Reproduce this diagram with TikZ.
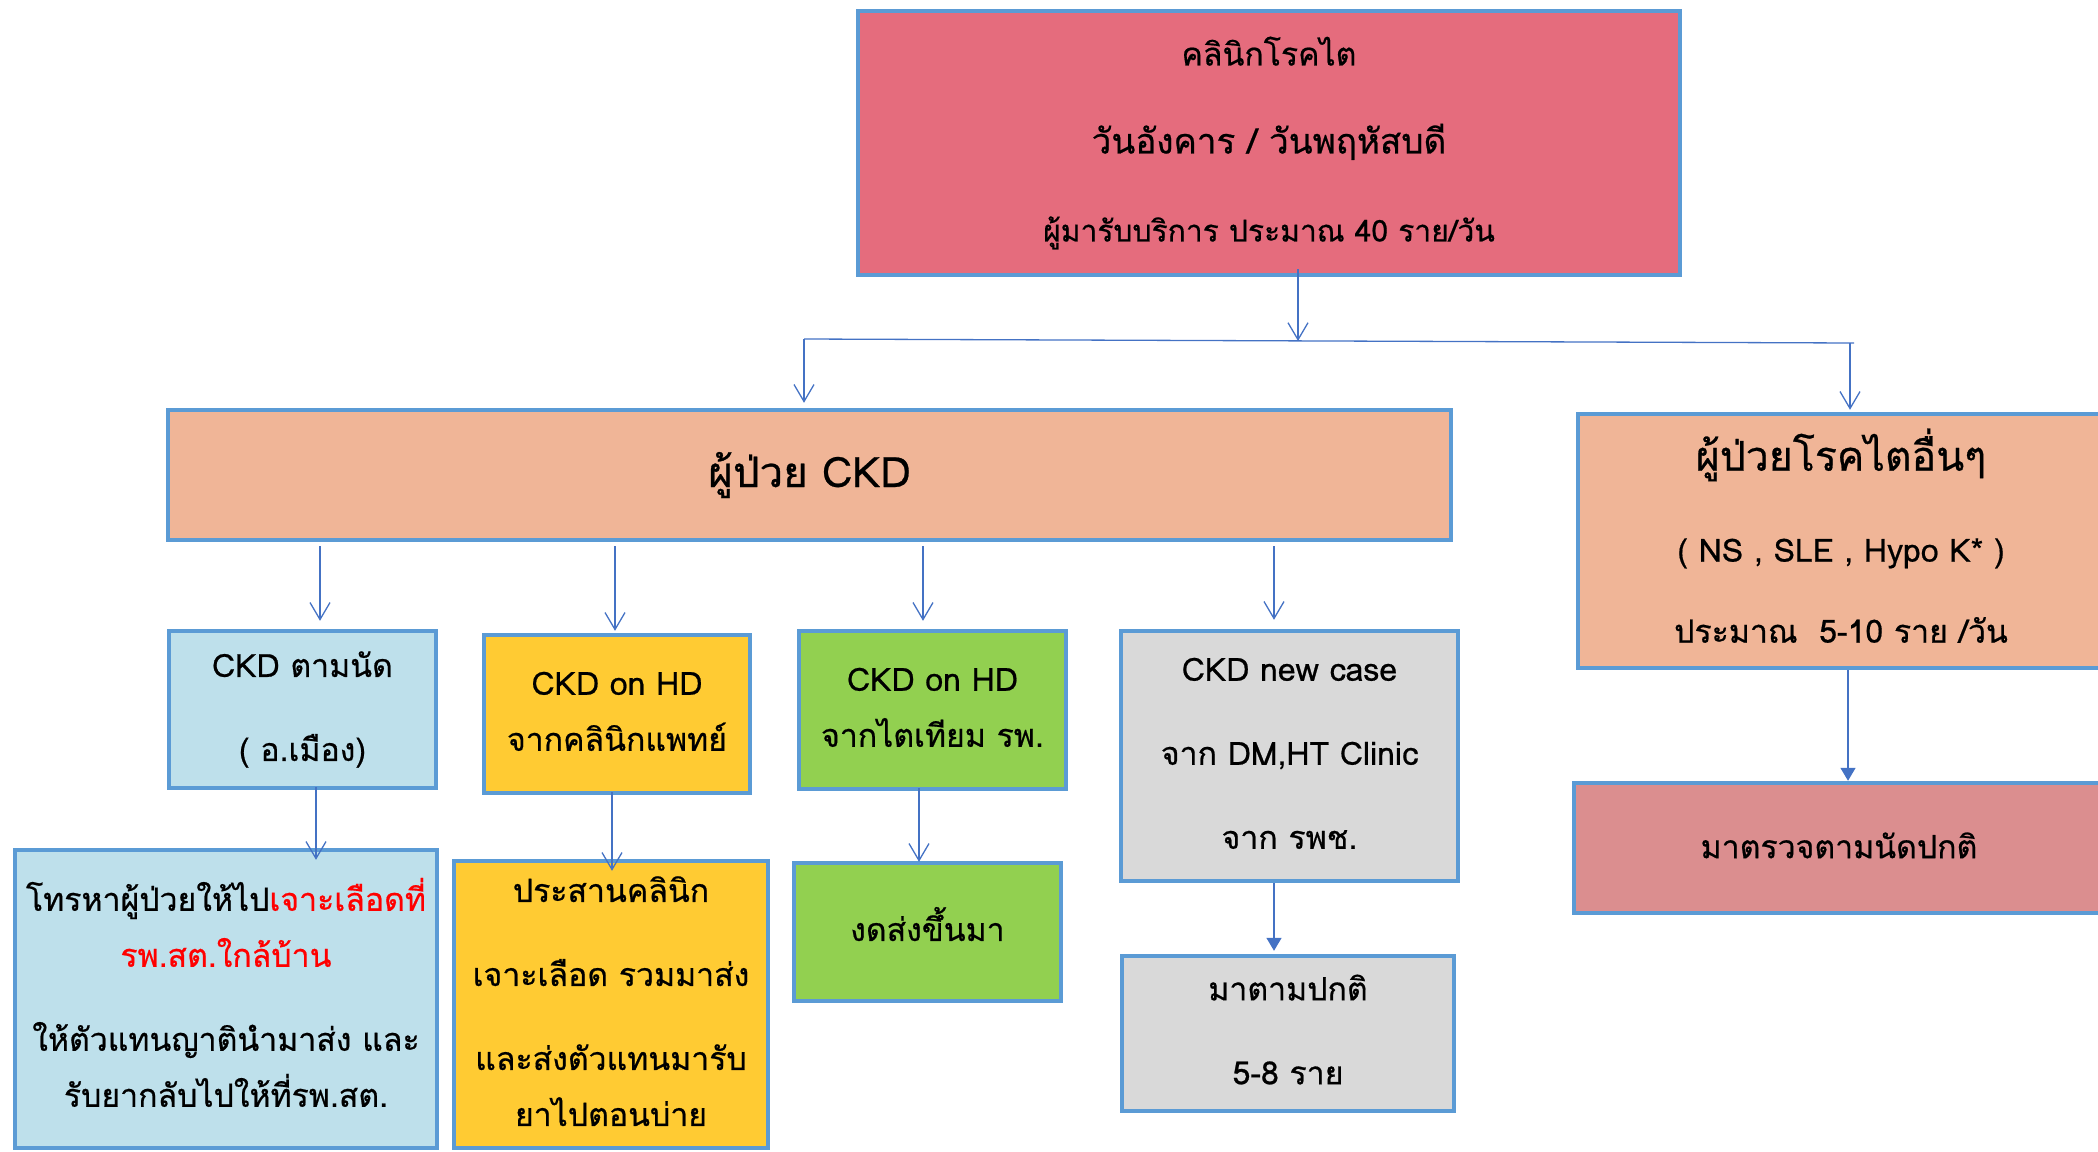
\documentclass[tikz,border=0pt]{standalone}
\usepackage{fontspec}
\usetikzlibrary{arrows.meta}
\newfontfamily\thaifont[Script=Thai,FakeBold=0.6]{Loma}
\definecolor{bordc}{HTML}{5B9BD5}
\definecolor{arrc}{HTML}{4472C4}
\definecolor{topc}{HTML}{E56C7D}
\definecolor{peach}{HTML}{F0B597}
\definecolor{rosec}{HTML}{DB8E8F}
\definecolor{lblue}{HTML}{BEE0EB}
\definecolor{goldc}{HTML}{FFCB33}
\definecolor{lgreen}{HTML}{92D050}
\definecolor{lgray}{HTML}{D9D9D9}
\newcommand\txnorm{\thaifont\fontsize{16}{28}\selectfont}
\newcommand\dep[1]{\rule[-#1]{0pt}{#1}}
\tikzset{
  box/.style={draw=bordc, line width=2.2pt, inner sep=0pt, align=center, text=black, font=\txnorm},
  oarr/.style={draw=arrc, line width=0.65pt, -{Straight Barb[length=8.5pt,width=10pt,line width=0.65pt]}},
  farr/.style={draw=arrc, line width=0.7pt, -{Triangle[length=6.5pt,width=7.5pt]}},
  bus/.style={draw=arrc, line width=0.65pt}
}
\begin{document}
\begin{tikzpicture}[x=0.5pt,y=-0.5pt]
\useasboundingbox (0,0) rectangle (2098,1151);
% top box
\node[box, fill=topc, minimum width=411pt, minimum height=132pt,
      font={\thaifont\fontsize{17.5}{44}\selectfont}] (top) at (1269,143)
  {{\fontsize{16}{44}\selectfont คลินิกโรคไต}\\วันอังคาร / วันพฤหัสบดี\\{\fontsize{15}{44}\selectfont ผู้มารับบริการ ประมาณ 40 ราย/วัน}};
% level 1
\node[box, fill=peach, minimum width=641.5pt, minimum height=65pt,
      font={\thaifont\fontsize{21}{28}\selectfont}] (ckd) at (809.5,475) {ผู้ป่วย CKD};
\node[box, fill=peach, minimum width=263pt, minimum height=127pt] (oth) at (1841,541)
  {{\fontsize{20.5}{28}\selectfont ผู้ป่วยโรคไตอื่นๆ}\\[17.5pt]( NS , SLE , Hypo K* )\\[12.5pt]ประมาณ~~5-10 ราย /วัน\dep{5.4pt}};
\node[box, fill=rosec, minimum width=265pt, minimum height=65pt] (norm) at (1839,848) {มาตรวจตามนัดปกติ\dep{2.7pt}};
% level 2
\node[box, fill=lblue, minimum width=133.5pt, minimum height=78.5pt] (A) at (302.5,709.5)
  {CKD ตามนัด\\[14pt]( อ.เมือง)};
\node[box, fill=goldc, minimum width=133pt, minimum height=79pt] (B) at (617,714)
  {CKD on HD\\จากคลินิกแพทย์\dep{2.7pt}};
\node[box, fill=lgreen, minimum width=133.5pt, minimum height=79pt] (C) at (932.5,710)
  {CKD on HD\\จากไตเทียม รพ.\dep{2.7pt}};
\node[box, fill=lgray, minimum width=168.5pt, minimum height=125pt] (D) at (1289.5,756)
  {CKD new case\\[14pt]จาก DM,HT Clinic\\[14pt]จาก รพช.\dep{2.7pt}};
% level 3
\node[box, fill=lblue, minimum width=211pt, minimum height=149pt] (A2) at (226,999)
  {โทรหาผู้ป่วยให้ไป{\color{red}เจาะเลือดที่}\\{\color{red}รพ.สต.ใกล้บ้าน}\\[14pt]ให้ตัวแทนญาตินำมาส่ง และ\\รับยากลับไปให้ที่รพ.สต.\dep{6.7pt}};
\node[box, fill=goldc, minimum width=157pt, minimum height=143.5pt] (B2) at (611,1004.5)
  {ประสานคลินิก\\[14pt]เจาะเลือด รวมมาส่ง\\[14pt]และส่งตัวแทนมารับ\\ยาไปตอนบ่าย\dep{3.4pt}};
\node[box, fill=lgreen, minimum width=133.5pt, minimum height=69pt] (C2) at (927.5,932) {งดส่งขึ้นมา\dep{8pt}};
\node[box, fill=lgray, minimum width=166pt, minimum height=77.5pt] (D2) at (1288,1033.5)
  {มาตามปกติ\\[14pt]5-8 ราย\dep{4pt}};
% bus
\coordinate (busL) at (804,339);
\coordinate (busM) at (1298,341);
\coordinate (busR) at (1854,343);
\coordinate (dropR) at (1850,343);
\draw[oarr, shorten <=-4pt] (top.south -| busM) -- (busM);
\draw[bus] (busL) -- (busR);
\draw[oarr, shorten >=2.5pt] (busL) -- (busL |- ckd.north);
\draw[oarr, shorten >=1pt] (dropR) -- (dropR |- oth.north);
% level 1 -> level 2
\draw[oarr, shorten <=2pt, shorten >=4pt] ([xshift=8.75pt]A.north |- ckd.south) -- ([xshift=8.75pt]A.north);
\draw[oarr, shorten <=2pt, shorten >=1pt] ([xshift=-1pt]B.north |- ckd.south) -- ([xshift=-1pt]B.north);
\draw[oarr, shorten <=2pt, shorten >=4pt] ([xshift=-4.75pt]C.north |- ckd.south) -- ([xshift=-4.75pt]C.north);
\draw[oarr, shorten <=2pt, shorten >=4.5pt] ([xshift=-7.75pt]D.north |- ckd.south) -- ([xshift=-7.75pt]D.north);
\draw[farr] ([xshift=3.5pt]oth.south) -- ([xshift=3.5pt]oth.south |- norm.north);
% level 2 -> level 3
\draw[oarr, shorten <=-1.5pt, shorten >=-6pt] ([xshift=45pt]A2.north |- A.south) -- ([xshift=45pt]A2.north);
\draw[oarr, shorten <=-1.5pt, shorten >=-6pt] ([xshift=0.5pt]B2.north |- B.south) -- ([xshift=0.5pt]B2.north);
\draw[oarr, shorten <=-1.5pt, shorten >=-0.5pt] ([xshift=-4.25pt]C2.north |- C.south) -- ([xshift=-4.25pt]C2.north);
\draw[farr, shorten >=1.5pt] ([xshift=-7pt]D2.north |- D.south) -- ([xshift=-7pt]D2.north);
\end{tikzpicture}
\end{document}
